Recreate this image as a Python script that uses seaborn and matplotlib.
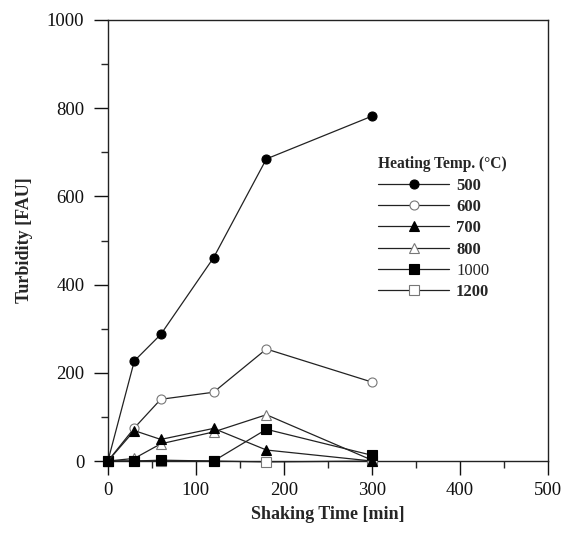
import matplotlib
matplotlib.use("Agg")
import matplotlib.pyplot as plt
from matplotlib.ticker import MultipleLocator
import seaborn as sns
import pandas as pd

# shaking time (min) and turbidity (FAU) per heating temperature
times = [0, 30, 60, 120, 180, 300]
temps = ["500", "600", "700", "800", "1000", "1200"]
t500 = [0, 227, 287, 461, 685, 782]
t600 = [0, 75, 140, 156, 254, 179]
t700 = [0, 69, 49, 74, 25, 0]
t800 = [0, 6, 39, 66, 105, 2]
t1000 = [0, 0, 2, 0, 72, 13]
t1200 = [0, 0, 0, 0, -2, 0]

series = [t500, t600, t700, t800, t1000, t1200]
df = pd.DataFrame({
    "time": times * len(temps),
    "turb": sum(series, []),
    "temp": [t for t in temps for _ in times],
})

sns.set_style("ticks")
plt.rcParams["font.family"] = ["Liberation Serif", "DejaVu Serif"]

# marker, face colour, edge colour, zorder
styles = {
    "500": ("o", "black", "black", 8),
    "600": ("o", "white", "#777777", 7),
    "700": ("^", "black", "black", 9),
    "800": ("^", "white", "#777777", 6),
    "1000": ("s", "black", "black", 8),
    "1200": ("s", "white", "#777777", 4),
}

fig = plt.figure(figsize=(5.68, 5.33), dpi=100)
ax = fig.add_axes([0.190, 0.135, 0.775, 0.8275])

for temp in temps:
    m, fc, ec, z = styles[temp]
    sub = df[df.temp == temp]
    sns.lineplot(data=sub, x="time", y="turb", ax=ax, label=temp,
                 color="#222222", linewidth=0.9, marker=m, markersize=6.5,
                 markerfacecolor=fc, markeredgecolor=ec, markeredgewidth=0.8,
                 clip_on=False, zorder=z)

ax.set_xlim(0, 500)
ax.set_ylim(0, 1000)
ax.xaxis.set_major_locator(MultipleLocator(100))
ax.xaxis.set_minor_locator(MultipleLocator(50))
ax.yaxis.set_major_locator(MultipleLocator(200))
ax.yaxis.set_minor_locator(MultipleLocator(100))
ax.tick_params(which="major", direction="out", length=10, width=1, labelsize=13.5, colors="#111111")
ax.tick_params(axis="y", which="major", pad=7)
ax.tick_params(axis="x", which="major", pad=5)
ax.tick_params(which="minor", direction="out", length=5, width=1)
for s in ax.spines.values():
    s.set_visible(True)
    s.set_linewidth(1.0)
    s.set_color("#222222")

ax.set_xlabel("Shaking Time [min]", fontsize=13, fontweight="bold", labelpad=5)
ax.set_ylabel("Turbidity [FAU]", fontsize=13, fontweight="bold", labelpad=10)

leg = ax.legend(title="Heating Temp. (\u00b0C)", loc="upper left",
                bbox_to_anchor=(0.594, 0.71), frameon=False, fontsize=12,
                handlelength=4.3, labelspacing=0.32, borderpad=0, handletextpad=0.4,
                title_fontproperties={"weight": "bold", "size": 11.2})
leg._legend_box.align = "left"
for txt in leg.get_texts():
    if txt.get_text() != "1000":
        txt.set_fontweight("bold")

fig.savefig("out.png", dpi=100)
